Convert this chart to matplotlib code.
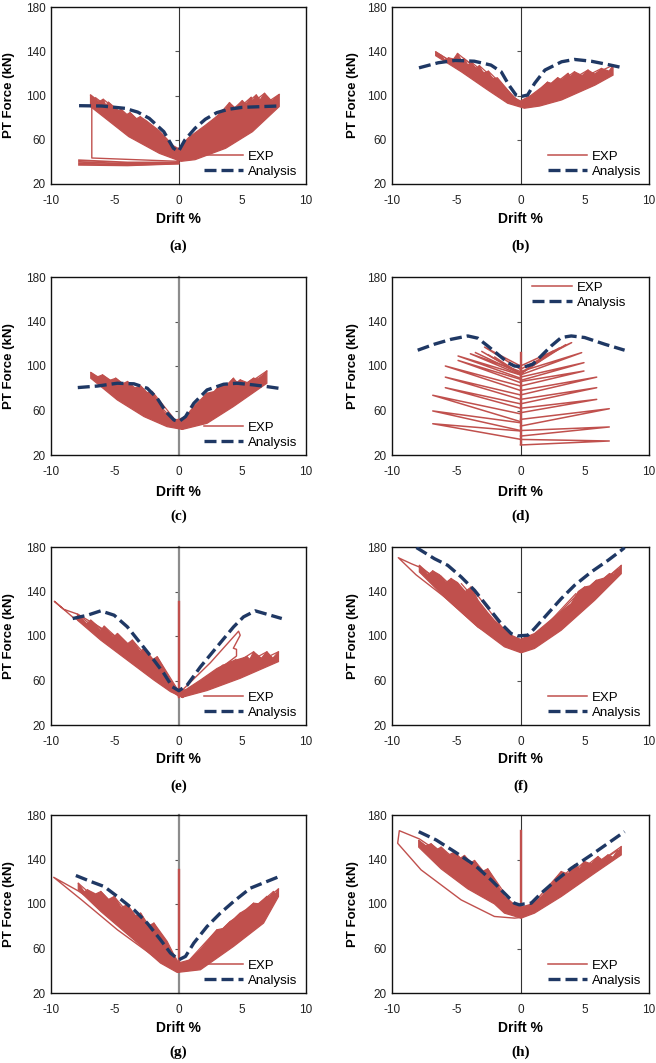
import matplotlib
matplotlib.use("Agg")
import matplotlib.pyplot as plt
from matplotlib.lines import Line2D

plt.rcParams['font.family'] = ['Liberation Sans', 'DejaVu Sans']
plt.rcParams['axes.unicode_minus'] = False

RED = '#C0504D'
NAVY = '#1F3864'

X_TICKS = [-10, -5, 0, 5, 10]
Y_TICKS = [20, 60, 100, 140, 180]
LABELS = ['(a)', '(b)', '(c)', '(d)', '(e)', '(f)', '(g)', '(h)']

# ---------------- (a) ----------------
a_ana_x = [-7.8, -6, -4.2, -3.2, -2.3, -1.15, -0.4, 0, 0.5, 1.3, 2.1, 3.0, 3.9, 5.0, 7.8]
a_ana_y = [90.8, 90.5, 88.4, 85, 79.4, 67.3, 52.3, 49.5, 59.8, 70.4, 78.5, 84.5, 87.5, 89.3, 90.5]
a_body_x = [0.2, 1.3, 3.7, 5.8, 7.9, 7.9, 7.3, 6.75, 6.4, 6.1, 5.8, 5.7, 5.3, 5.0, 4.5, 4.0, 3.6,
            3.45, 3.1, 2.1, 0.8, 0, -0.4, -1.5, -2.5, -3.0, -3.3, -3.8, -4.1, -4.5, -4.8, -5.5,
            -5.7, -5.9, -6.3, -6.9, -6.9, -3.9, -1.5, -0.1]
a_body_y = [40.5, 42, 52.3, 67.3, 90, 101, 95, 102, 96, 100.5, 95, 98.4, 92, 95.3, 88, 93.5, 86,
            87, 82, 73, 62, 52, 54.5, 68, 77, 80.8, 79, 84.5, 82.5, 87.5, 86, 93.9,
            91, 96.6, 94, 100.5, 90, 62.8, 47.7, 41.7]
a_tip_x = [-6.9, -6.5, -5.9, -5.5, -4.5, -3.8, -3.0, 7.9, 7.8, 6.75, 6.1, 5.7, 5.0, 4.0, 3.45]
a_tip_y = [100.5, 98, 96.6, 93.9, 87.5, 84.5, 80.8, 101, 97.5, 102, 100.5, 98.4, 95.3, 93.5, 86.9]
a_base = [0.0, 41.0]
a_drop_x = [-6.8, -6.8, 0]
a_drop_y = [89, 43.5, 40.5]
a_floor_x = [-7.8, -4.0, 0]
a_floor_y1 = [41.5, 39.5, 39.5]
a_floor_y2 = [40.0, 38.2, 39.0]
a_floor_y3 = [38.6, 37.2, 38.6]
a_floor_y4 = [37.3, 36.8, 38.4]

# ---------------- (b) ----------------
b_ana_x = [-7.9, -6.4, -5.1, -3.6, -2.3, -1.5, -0.9, -0.35, 0, 0.55, 1.1, 1.9, 3.2, 4.2, 5.5, 6.8, 8.0]
b_ana_y = [125, 129.6, 131.7, 131, 127.5, 121.4, 109.4, 100.4, 99, 100.4, 111, 123, 130.5, 132.6, 131, 128, 125]
b_body_x = [0.3, 1.5, 3.2, 5.8, 7.2, 7.2, 6.9, 6.3, 5.8, 5.25, 4.8, 4.2, 3.9, 3.7, 3.2, 2.9, 2.4,
            2.1, 1.6, 0.8, 0, -0.5, -1.0, -1.8, -2.2, -2.5, -2.9, -3.2, -3.5, -3.8, -4.1, -4.4, -4.6,
            -4.9, -5.2, -5.6, -5.9, -6.2, -6.6, -6.6, -4.6, -2.55, -1.0]
b_body_y = [88.5, 90.5, 96, 109.4, 118.4, 127.4, 122, 124.4, 119, 123, 118, 121.4, 117, 120, 114, 116, 111,
            112, 107, 100, 95, 98, 105, 116, 115, 122, 120, 127, 124, 130, 127.5, 133.5, 131.5,
            138, 133, 134, 132, 136.5, 139.5, 136, 121.4, 105, 93]
b_tip_x = [-6.6, -6.2, -5.6, -4.9, -4.4, -3.8, -3.2, -2.5, 7.2, 6.3, 5.25, 4.2, 3.7, 2.9, 2.1]
b_tip_y = [139.5, 136.5, 134, 138, 133.5, 130, 127, 122, 127.4, 124.4, 123, 121.4, 120, 116, 112]
b_base = [0.3, 89.5]

# ---------------- (c) ----------------
c_ana_x = [-7.9, -6.35, -4.8, -3.5, -2.45, -1.67, -1.0, -0.36, 0.03, 0.55, 1.2, 2.24, 3.54, 4.58, 5.89, 6.93, 7.84]
c_ana_y = [80.6, 82, 84.5, 84, 80, 71, 59, 51.5, 50, 54.5, 66.5, 78.5, 83.6, 84.5, 83, 81.5, 80]
c_body_x = [0.3, 2.24, 4.3, 6.93, 6.93, 6.3, 5.9, 5.4, 4.85, 4.6, 4.3, 3.8, 3.3, 2.8, 2.24, 1.2, 0.55,
            0, -0.5, -1.15, -2.06, -2.5, -2.97, -3.5, -4.0, -4.4, -4.92, -5.4, -5.96, -6.4, -6.88,
            -6.88, -4.8, -2.7, -0.9]
c_body_y = [43, 48.5, 63.5, 84.5, 95.6, 88, 89, 85, 87.5, 85, 89, 82, 83, 77, 75.5, 63.5, 54.5,
            52, 51.5, 59, 77, 76, 82, 80, 86, 84, 89, 87, 92, 90, 94.2,
            89, 69.5, 54.5, 45.5]
c_tip_x = [-6.88, -5.96, -4.92, -4.0, -2.97, -2.06, 6.93, 6.67, 5.89, 4.84, 4.32, 3.28, 2.24]
c_tip_y = [94.2, 92, 89, 86, 82, 77, 95.6, 92, 89, 87.5, 89, 83, 75.5]
c_base = [0.3, 43.5]

# ---------------- (d) ----------------
d_ana_x = [-8, -6.7, -5.4, -4.1, -3.32, -2.55, -1.77, -0.99, -0.47, 0.31, 0.96, 1.61, 2.39, 3.17, 3.95, 4.99, 6.55, 8.1]
d_ana_y = [114.2, 119.6, 124, 127, 125, 118, 110.6, 103, 100, 99.2, 101.6, 109, 118, 125.6, 127, 125.6, 119.6, 114.2]
d_left_tip_x = [-6.83, -6.83, -6.83, -5.85, -5.85, -5.85, -4.86, -4.86, -3.9, -2.8]
d_left_tip_y = [48.1, 59.6, 73.7, 80.5, 90.0, 100.0, 105.0, 109.0, 111.0, 117.0]
d_left_hi = [41.6, 49, 57, 66, 74, 82, 88, 92, 95, 100]
d_left_lo = [34.1, 42, 50, 62, 70, 78, 85, 89, 92, 97]
d_right_tip_x = [6.91, 6.91, 6.91, 5.93, 5.93, 5.93, 4.94, 4.94, 4.76, 3.98]
d_right_tip_y = [32.6, 45.2, 61.6, 70.0, 80.5, 90.0, 95.5, 103.0, 112.0, 121.0]
d_right_hi = [34, 42, 52, 62, 70, 78, 86, 90, 95, 100]
d_right_lo = [29, 37, 46, 58, 66, 74, 82, 87, 92, 97]
d_fan_x = [-3.5, -3.0, -2.5, -2.0, 2.0, 2.5, 3.0, 3.5]
d_fan_y = [112, 113, 110, 108, 110, 113, 116, 119]
d_fan_base = [0.0, 93.0]
d_spike = [30, 112]

# ---------------- (e) ----------------
e_ana_x = [-8.3, -7.14, -6.1, -5.05, -4.01, -2.97, -1.93, -1.15, -0.49, 0.03, 0.68, 1.72, 3.02, 4.32, 5.1, 6.02, 6.93, 8.1]
e_ana_y = [115.7, 118.7, 122.6, 118.7, 108.2, 93.3, 78.3, 66.4, 54.4, 50.8, 55.9, 72.3, 90.3, 108.2, 117.2, 122.6, 119.6, 115.7]
e_body_x = [0.3, 2.24, 4.84, 7.84, 7.84, 7.4, 6.93, 6.5, 5.89, 5.6, 5.37, 4.06, 3.02, 1.72, 0.6, 0,
            -0.63, -1.67, -2.0, -2.71, -3.0, -3.62, -4.0, -4.79, -5.1, -5.83, -6.1, -6.88, -7.2, -7.92,
            -7.92, -6.1, -4.01, -1.93, -0.63]
e_body_y = [45, 51, 62, 77, 85.8, 80, 85.8, 80, 85.8, 79, 81.3, 76.8, 70.8, 60.4, 52, 50,
            60.4, 81.3, 79, 88.8, 86, 96.3, 93, 102.2, 99, 108.8, 105, 114.2, 111, 119.6,
            114.2, 96.3, 78.3, 60.4, 50]
e_tip_x = [-7.92, -6.88, -5.83, -4.79, -3.62, -2.71, -1.67, 7.84, 6.93, 5.89, 5.37, 4.5, 3.5]
e_tip_y = [119.6, 114.2, 108.8, 102.2, 96.3, 88.8, 81.3, 85.8, 85.8, 85.8, 81.3, 79, 74]
e_base = [0.3, 45.0]
e_loop_x = [0, -3.0, -6.1, -8.3, -9.74, -9.0, -7.9, -5.0, -2.0, 0]
e_loop_y = [46, 72, 103.7, 117, 131.2, 124, 119.6, 100, 78, 47]
e_hump_x = [0, 2.5, 4.71, 4.84, 4.3, 4.55, 4.55, 2.5, 0]
e_hump_y = [48, 76, 104.3, 100.7, 89, 88, 82, 64, 46]
e_spike = [45, 131]

# ---------------- (f) ----------------
f_ana_x = [-8.1, -6.7, -5.66, -4.62, -3.58, -2.55, -1.51, -0.73, -0.21, 0.57, 1.09, 2.13, 3.17, 4.21, 5.51, 6.81, 7.84, 8.1]
f_ana_y = [179.5, 169.5, 163.5, 153.1, 141.1, 126.2, 111.2, 102.2, 100.1, 100.7, 106.7, 120.2, 133.6, 145.6, 157.6, 168, 177, 179.5]
f_body_x = [0.05, 1.09, 3.17, 5.77, 7.84, 7.84, 7.58, 7.58, 7.2, 6.93, 6.5, 5.9, 5.4, 4.99, 4.5, 3.95,
            2.65, 1.09, 0, -0.73, -2.03, -2.55, -3.3, -3.84, -4.3, -4.9, -5.4, -5.8, -6.3, -6.83,
            -7.2, -7.87, -7.87, -5.92, -3.32, -1.25]
f_body_y = [84.9, 88.8, 105.2, 132.1, 156, 163.5, 158, 160.5, 155, 156, 152, 150, 145, 144, 140, 129.1,
            117.2, 102.2, 97, 100.7, 114, 121, 132, 144, 140, 148, 151.6, 148, 155, 158.5,
            155, 163.5, 157.6, 135.1, 108.2, 90.3]
f_tip_x = [-7.87, -6.83, -6.2, -5.4, -4.6, -3.84, 7.84, 7.58, 6.93, 5.9, 4.99, 4.3]
f_tip_y = [163.5, 158.5, 154, 151.6, 147, 144, 163.5, 160.5, 156, 150, 144, 138]
f_base = [0.05, 85.5]
f_loop_x = [0, -3.3, -5.9, -8.13, -9.51, -8.5, -7.87, -5.0, 0]
f_loop_y = [86, 108, 135, 155, 170.4, 165, 162, 140, 90]

# ---------------- (g) ----------------
g_ana_x = [-8.05, -6.88, -5.83, -4.79, -3.49, -2.45, -1.41, -0.63, 0.03, 0.55, 1.2, 2.24, 3.28, 4.32, 5.63, 6.93, 8.1]
g_ana_y = [125.6, 120.2, 115.7, 106.7, 94.8, 82.8, 67.8, 55.9, 49.9, 52.9, 64.9, 79.8, 91.8, 102.2, 114.2, 120.2, 125.6]
g_body_x = [-0.1, 1.72, 4.32, 6.67, 7.84, 7.84, 7.6, 7.45, 7.2, 6.93, 6.4, 5.89, 5.3, 4.84, 4.4, 4.06,
            3.5, 3.02, 1.72, 0.94, 0, -0.36, -0.89, -1.93, -2.4, -2.97, -3.4, -4.01, -4.5, -5.05,
            -5.5, -6.09, -6.5, -7.14, -7.4, -7.86, -7.86, -6.09, -3.49, -1.41]
g_body_y = [38.5, 40.9, 61.9, 82.8, 106.7, 113.6, 109, 111.2, 106, 106.7, 100, 100.7, 95, 91.8, 87, 84.3,
            78, 76.8, 58.9, 49.9, 47, 54.4, 66.4, 82.8, 80, 91.8, 89, 99.2, 97, 106.7,
            104, 111.2, 109, 112.7, 111, 118.7, 112.7, 93.3, 67.8, 46.9]
g_tip_x = [-7.86, -7.14, -6.09, -5.05, -4.01, -2.97, -1.93, 7.84, 7.45, 6.93, 5.89, 4.84, 4.06, 3.02]
g_tip_y = [118.7, 112.7, 111.2, 106.7, 99.2, 91.8, 82.8, 113.6, 111.2, 106.7, 100.7, 91.8, 84.3, 76.8]
g_base = [0.0, 39.0]
g_loop_x = [0, -1.93, -4.79, -7.6, -9.79, -7.9, -6.0, -3.5, 0]
g_loop_y = [40, 52.9, 76.8, 103.7, 124, 112, 98, 76, 45]
g_spike = [40, 131]

# ---------------- (h) ----------------
h_ana_x = [-7.92, -6.57, -5.14, -3.58, -2.29, -1.25, -0.47, -0.08, 0.31, 0.83, 1.61, 2.65, 3.95, 5.51, 6.81, 8.1]
h_ana_y = [165, 157.6, 147.1, 135.1, 121.7, 109.7, 100.7, 99.2, 100.1, 100.7, 109.7, 120.2, 132.1, 144.1, 154.6, 165]
h_body_x = [0.05, 1.09, 3.17, 5.77, 7.84, 7.84, 7.58, 7.58, 7.2, 6.81, 6.4, 6.03, 5.5, 4.99, 4.6, 4.21,
            3.7, 3.17, 1.87, 1.09, 0, -0.6, -1.25, -2.55, -3.0, -3.58, -4.0, -4.36, -4.7, -5.14,
            -5.6, -6.18, -6.5, -6.96, -7.4, -7.92, -7.92, -6.18, -4.1, -2.03, -1.25]
h_body_y = [87.3, 91.8, 106.7, 127.7, 144.1, 151.6, 146, 148.6, 142, 144.1, 139, 142.6, 136, 138.1, 132, 135.1,
            127, 129.1, 109.7, 100.7, 97, 100.7, 106.7, 131.6, 129, 139.1, 136, 143.6, 141, 146.6,
            144, 151.1, 149, 154.1, 152, 157.1, 151.1, 131.6, 113.6, 100.1, 91.8]
h_tip_x = [-7.92, -6.96, -6.18, -5.14, -4.36, -3.58, -2.55, 7.84, 7.58, 6.81, 6.03, 4.99, 4.21, 3.17]
h_tip_y = [157.1, 154.1, 151.1, 146.6, 143.6, 139.1, 131.6, 151.6, 148.6, 144.1, 142.6, 138.1, 135.1, 129.1]
h_base = [0.05, 88.0]
h_loop_x = [0.05, -0.47, -2.03, -4.62, -7.74, -9.56, -9.43, -7.87, -5.5, -3.0, 0]
h_loop_y = [87.9, 87.3, 88.8, 103.7, 130.7, 154.6, 165.9, 158.5, 140, 120, 95]
h_spike = [88, 166]

# axes boxes in pixels (left, top, right, bottom) of a 656x1063 canvas
W, H = 656, 1063
COLS = [(51, 306), (392, 649)]
ROWS = [(7, 184), (277, 455), (547, 725), (815, 993)]
XLAB_Y = [218, 491, 758, 1027]
PLAB_Y = [246, 516, 786, 1052]

fig = plt.figure(figsize=(W / 100, H / 100), dpi=100)


def make_axes(i):
    r, c = divmod(i, 2)
    x0, x1 = COLS[c]
    y0, y1 = ROWS[r]
    ax = fig.add_axes([x0 / W, 1 - y1 / H, (x1 - x0) / W, (y1 - y0) / H])
    ax.set_xlim(-10, 10)
    ax.set_ylim(20, 180)
    ax.set_xticks(X_TICKS)
    ax.set_yticks(Y_TICKS)
    ax.tick_params(length=0, labelsize=8.5, colors='#222222')
    ax.tick_params(axis='x', pad=8)
    ax.tick_params(axis='y', pad=4)
    for s in ax.spines.values():
        s.set_linewidth(1.0)
        s.set_color('#111111')
    grey = i in (2, 4, 6)
    mid = ax.secondary_yaxis(0.5)
    mid.set_yticks(Y_TICKS[1:-1])
    mid.tick_params(direction='in', length=3, labelright=False, labelleft=False,
                    color='#555555')
    mid.spines['right'].set_color('#8c8c8c' if grey else '#333333')
    mid.spines['right'].set_linewidth(1.6 if grey else 0.8)
    ax.set_ylabel('PT Force (kN)', fontsize=9.5, fontweight='bold')
    ax.yaxis.set_label_coords(-0.141 if c == 0 else -0.128, 0.5)
    ax.set_xlabel('Drift %', fontsize=10, fontweight='bold')
    ax.xaxis.set_label_coords(0.5, -(XLAB_Y[r] - 6 - y1) / (y1 - y0))
    fig.text((x0 + x1) / 2 / W, 1 - PLAB_Y[r] / H, LABELS[i], ha='center', va='center',
             fontsize=11, fontweight='bold', family='Liberation Serif')
    return ax


def fan(ax, body_x, body_y, tip_x, tip_y, base):
    ax.fill(body_x, body_y, color=RED, lw=0.9)
    for tx, ty in zip(tip_x, tip_y):
        ax.plot([base[0], tx], [base[1], ty], color=RED, lw=0.9)


def ana(ax, x, y):
    ax.plot(x, y, color=NAVY, lw=2.4, dashes=(3.6, 1.5), zorder=4)


def spike(ax, yy):
    ax.plot([0, 0], yy, color=RED, lw=1.7, zorder=3)


def legend(ax, c, upper=False):
    h1 = Line2D([], [], color=RED, lw=1.1)
    h2 = Line2D([], [], color=NAVY, lw=2.4, dashes=(3.6, 1.5))
    if upper:
        ax.legend([h1, h2], ['EXP', 'Analysis'], loc='upper right', bbox_to_anchor=(0.91, 0.975),
                  frameon=False, fontsize=9.5, handlelength=3.0, handletextpad=0.35,
                  labelspacing=0.2, borderpad=0, borderaxespad=0)
    else:
        ax.legend([h1, h2], ['EXP', 'Analysis'], loc='lower right',
                  bbox_to_anchor=(0.966 if c == 0 else 0.97, 0.035),
                  frameon=False, fontsize=9.5, handlelength=3.0, handletextpad=0.35,
                  labelspacing=0.2, borderpad=0, borderaxespad=0)


# (a)
ax = make_axes(0)
fan(ax, a_body_x, a_body_y, a_tip_x, a_tip_y, a_base)
ax.plot(a_drop_x, a_drop_y, color=RED, lw=1.0)
for fy in (a_floor_y1, a_floor_y2, a_floor_y3, a_floor_y4):
    ax.plot(a_floor_x, fy, color=RED, lw=1.3)
ana(ax, a_ana_x, a_ana_y)
legend(ax, 0)

# (b)
ax = make_axes(1)
fan(ax, b_body_x, b_body_y, b_tip_x, b_tip_y, b_base)
ana(ax, b_ana_x, b_ana_y)
legend(ax, 1)

# (c)
ax = make_axes(2)
fan(ax, c_body_x, c_body_y, c_tip_x, c_tip_y, c_base)
ana(ax, c_ana_x, c_ana_y)
legend(ax, 0)

# (d)
ax = make_axes(3)
for tx, ty, hi, lo in zip(d_left_tip_x, d_left_tip_y, d_left_hi, d_left_lo):
    ax.plot([0, tx, 0], [hi, ty, lo], color=RED, lw=1.1)
for tx, ty, hi, lo in zip(d_right_tip_x, d_right_tip_y, d_right_hi, d_right_lo):
    ax.plot([0, tx, 0], [hi, ty, lo], color=RED, lw=1.1)
for tx, ty in zip(d_fan_x, d_fan_y):
    ax.plot([d_fan_base[0], tx], [d_fan_base[1], ty], color=RED, lw=1.1)
spike(ax, d_spike)
ana(ax, d_ana_x, d_ana_y)
legend(ax, 1, upper=True)

# (e)
ax = make_axes(4)
fan(ax, e_body_x, e_body_y, e_tip_x, e_tip_y, e_base)
ax.plot(e_loop_x, e_loop_y, color=RED, lw=1.0)
ax.plot(e_hump_x, e_hump_y, color=RED, lw=1.0)
spike(ax, e_spike)
ana(ax, e_ana_x, e_ana_y)
legend(ax, 0)

# (f)
ax = make_axes(5)
fan(ax, f_body_x, f_body_y, f_tip_x, f_tip_y, f_base)
ax.plot(f_loop_x, f_loop_y, color=RED, lw=1.0)
ana(ax, f_ana_x, f_ana_y)
legend(ax, 1)

# (g)
ax = make_axes(6)
fan(ax, g_body_x, g_body_y, g_tip_x, g_tip_y, g_base)
ax.plot(g_loop_x, g_loop_y, color=RED, lw=1.0)
spike(ax, g_spike)
ana(ax, g_ana_x, g_ana_y)
legend(ax, 0)

# (h)
ax = make_axes(7)
fan(ax, h_body_x, h_body_y, h_tip_x, h_tip_y, h_base)
ax.plot(h_loop_x, h_loop_y, color=RED, lw=1.0)
spike(ax, h_spike)
ana(ax, h_ana_x, h_ana_y)
legend(ax, 1)

fig.savefig('out.png', dpi=100)
